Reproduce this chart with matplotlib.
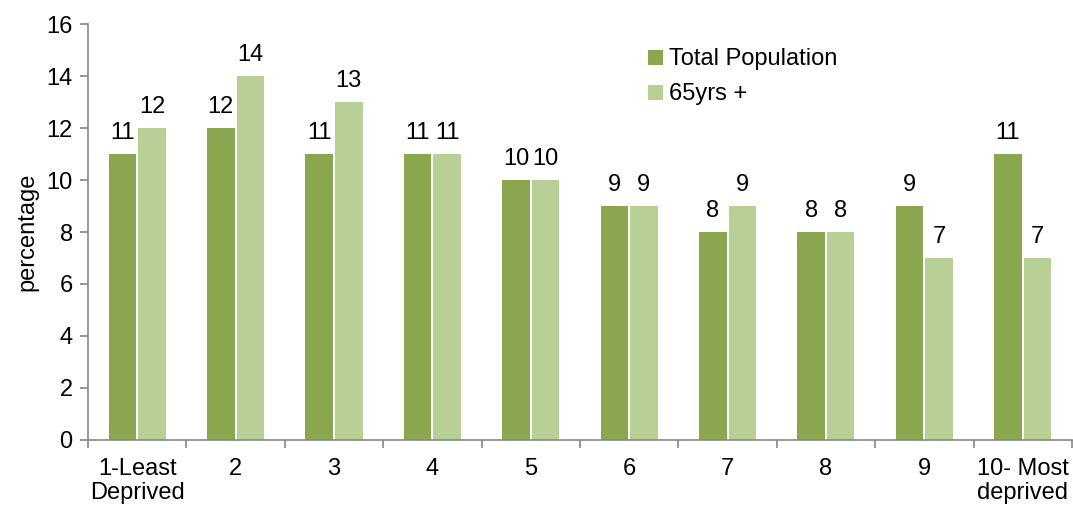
import numpy as np
import matplotlib.pyplot as plt

plt.rcParams['font.family'] = ['Liberation Sans', 'DejaVu Sans']

# Data
categories = ['1-Least\nDeprived', '2', '3', '4', '5', '6', '7', '8', '9', '10- Most\ndeprived']
total_pop = [11, 12, 11, 11, 10, 9, 8, 8, 9, 11]
over_65 = [12, 14, 13, 11, 10, 9, 9, 8, 7, 7]

dark_green = '#8aa64f'
light_green = '#b8cf96'
axis_grey = '#868686'
fs = 17

fig = plt.figure(figsize=(10.73, 5.05), dpi=100)
ax = fig.add_axes([0.082, 0.129, 0.917, 0.823])

x = np.arange(len(categories))
w = 0.28
b1 = ax.bar(x - 0.15, total_pop, w, color=dark_green, label='Total Population')
b2 = ax.bar(x + 0.15, over_65, w, color=light_green, label='65yrs +')

for bars in (b1, b2):
	for bar in bars:
		ax.annotate(f"{bar.get_height():.0f}", (bar.get_x() + bar.get_width()/2, bar.get_height()),
			xytext=(0, 7), textcoords='offset points', ha='center', va='bottom', fontsize=fs)

ax.set_xlim(-0.5, len(categories) - 0.5)
ax.set_ylim(0, 16)
ax.set_yticks(np.arange(0, 17, 2))
ax.set_xticks(x)
ax.set_xticklabels(categories, fontsize=fs, linespacing=1.1)
ax.set_xticks(np.arange(-0.5, len(categories), 1), minor=True)
ax.tick_params(axis='x', which='major', length=0, pad=13)
ax.tick_params(axis='x', which='minor', length=6, color=axis_grey, width=1.2)
ax.tick_params(axis='y', length=6, color=axis_grey, width=1.2, labelsize=fs, pad=5)
ax.set_ylabel('percentage', fontsize=fs, labelpad=6)

for s in ('top', 'right'):
	ax.spines[s].set_visible(False)
for s in ('left', 'bottom'):
	ax.spines[s].set_color(axis_grey)
	ax.spines[s].set_linewidth(1.2)

ax.legend(loc='upper left', bbox_to_anchor=(0.548, 0.993), frameon=False, fontsize=fs,
	handlelength=0.6, handleheight=0.6, handletextpad=0.25, labelspacing=0.55)

plt.savefig('out.png', dpi=100)
